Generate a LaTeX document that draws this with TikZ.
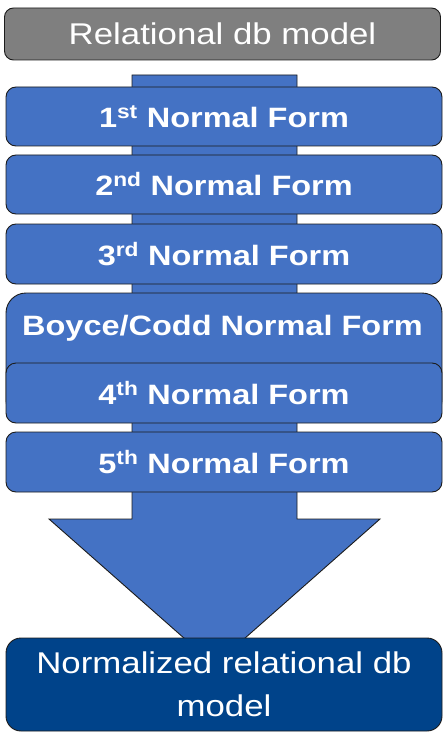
\documentclass[tikz,border=0pt]{standalone}
\usepackage{fontspec}
\newfontfamily\arialx{Liberation Sans}[FakeStretch=1.16]
\definecolor{nfblue}{HTML}{4472C4}
\definecolor{darkblue}{HTML}{00438A}
\definecolor{boxgray}{HTML}{7F7F7F}
\definecolor{edgecol}{HTML}{1C1C1C}
\tikzset{
  basebox/.style={draw=edgecol, line width=0.9pt, inner sep=0pt, text=white, minimum width=436pt},
  nfbox/.style={basebox, fill=nfblue, rounded corners=10pt, minimum height=59pt,
    font=\arialx\fontsize{28}{32}\selectfont\bfseries},
  nftext/.style={text=white, inner sep=0pt, font=\arialx\fontsize{28}{32}\selectfont\bfseries},
  graybox/.style={basebox, fill=boxgray, rounded corners=9pt, minimum height=52pt,
    font=\arialx\fontsize{30}{36}\selectfont},
  finalbox/.style={basebox, fill=darkblue, rounded corners=15pt, minimum height=93pt,
    align=center, font=\arialx\fontsize{30}{43}\selectfont},
  arrowshape/.style={draw=edgecol, line width=0.9pt, fill=nfblue}
}
\begin{document}
\begin{tikzpicture}[x=1pt,y=-1pt]
\useasboundingbox (0,0) rectangle (446,746);
% big down arrow behind the boxes
\draw[arrowshape] (132,75) -- (297,75) -- (297,519) -- (380,519) -- (214.5,665)
  -- (49,519) -- (132,519) -- cycle;
\node[graybox] (top) at (222.5,34) {Relational db model};
\node[nfbox] (nf1) at (224,116.5) {1\textsuperscript{st} Normal Form};
\node[nfbox] (nf2) at (224,184.5) {2\textsuperscript{nd} Normal Form};
\node[nfbox, minimum height=60pt] (nf3) at (224,254) {3\textsuperscript{rd} Normal Form};
\node[nfbox, minimum height=127pt, rounded corners=20pt] (bcnf) at (224,356.5) {};
\node[nftext, anchor=base] (bcnflabel) at (222.5,335) {Boyce/Codd Normal Form};
\node[nfbox, minimum height=60pt] (nf4) at (224,393) {4\textsuperscript{th} Normal Form};
\node[nfbox, minimum height=60pt] (nf5) at (224,462) {5\textsuperscript{th} Normal Form};
\node[finalbox] (final) at (224,684.5) {Normalized relational db\\model};
\end{tikzpicture}
\end{document}
